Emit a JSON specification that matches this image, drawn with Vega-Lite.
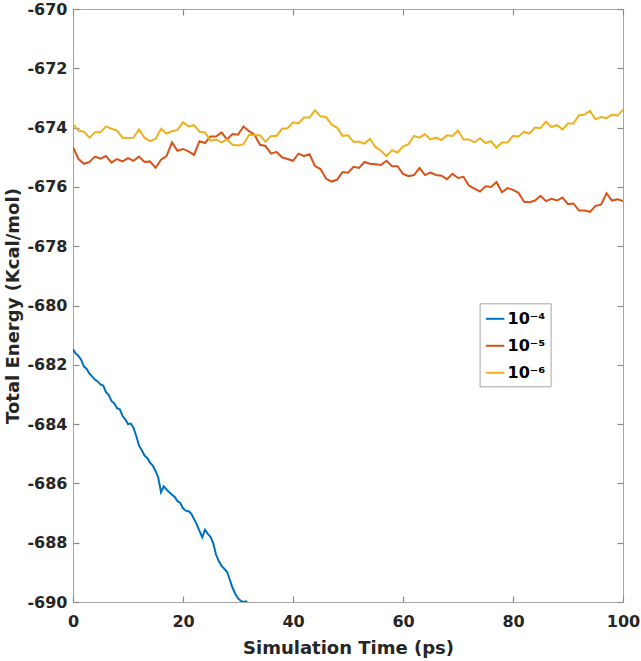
{
"$schema": "https://vega.github.io/schema/vega-lite/v6.json",
"width": 550, "height": 593,
"autosize": {"type": "none"},
"padding": {"left": 73, "top": 9, "right": 18, "bottom": 59},
"background": "white",
"config": {"view": {"stroke": "#a6a6a6", "strokeWidth": 1}, "font": "DejaVu Sans"},
"datasets": {
"blue": [
{"t":0,"e":-681.48},{"t":0.5,"e":-681.62},{"t":1,"e":-681.70},{"t":1.5,"e":-681.84},{"t":2,"e":-682.06},{"t":2.5,"e":-682.14},{"t":3,"e":-682.30},{"t":3.5,"e":-682.40},{"t":4,"e":-682.50},{"t":4.5,"e":-682.56},{"t":5,"e":-682.66},{"t":5.5,"e":-682.70},{"t":6,"e":-682.92},{"t":6.5,"e":-683.02},{"t":7,"e":-683.22},{"t":7.5,"e":-683.30},{"t":8,"e":-683.46},{"t":8.5,"e":-683.50},{"t":9,"e":-683.72},{"t":9.5,"e":-683.84},{"t":10,"e":-684.00},{"t":10.5,"e":-683.98},{"t":11,"e":-684.12},{"t":11.5,"e":-684.40},{"t":12,"e":-684.72},{"t":12.5,"e":-684.88},{"t":13,"e":-685.06},{"t":13.5,"e":-685.14},{"t":14,"e":-685.30},{"t":14.5,"e":-685.40},{"t":15,"e":-685.58},{"t":15.5,"e":-685.80},{"t":16,"e":-686.30},{"t":16.5,"e":-686.10},{"t":17,"e":-686.20},{"t":17.5,"e":-686.30},{"t":18,"e":-686.38},{"t":18.5,"e":-686.46},{"t":19,"e":-686.60},{"t":19.5,"e":-686.66},{"t":20,"e":-686.84},{"t":20.5,"e":-686.92},{"t":21,"e":-686.94},{"t":21.5,"e":-687.02},{"t":22,"e":-687.20},{"t":22.5,"e":-687.38},{"t":23,"e":-687.60},{"t":23.5,"e":-687.82},{"t":24,"e":-687.56},{"t":24.5,"e":-687.70},{"t":25,"e":-687.80},{"t":25.5,"e":-688.02},{"t":26,"e":-688.40},{"t":26.5,"e":-688.62},{"t":27,"e":-688.78},{"t":27.5,"e":-688.88},{"t":28,"e":-688.98},{"t":28.5,"e":-689.24},{"t":29,"e":-689.52},{"t":29.5,"e":-689.72},{"t":30,"e":-689.88},{"t":30.5,"e":-689.96},{"t":31,"e":-690.0},{"t":31.5,"e":-689.98},{"t":32,"e":-690.1}
],
"orange": [
{"t":0,"e":-674.66},{"t":1,"e":-675.06},{"t":2,"e":-675.22},{"t":3,"e":-675.16},{"t":4,"e":-674.98},{"t":5,"e":-675.05},{"t":6,"e":-674.96},{"t":7,"e":-675.18},{"t":8,"e":-675.06},{"t":9,"e":-675.14},{"t":10,"e":-675.03},{"t":11,"e":-675.12},{"t":12,"e":-674.98},{"t":13,"e":-675.16},{"t":14,"e":-675.14},{"t":15,"e":-675.36},{"t":16,"e":-675.08},{"t":17,"e":-674.96},{"t":18,"e":-674.50},{"t":19,"e":-674.78},{"t":20,"e":-674.72},{"t":21,"e":-674.80},{"t":22,"e":-674.92},{"t":23,"e":-674.46},{"t":24,"e":-674.52},{"t":25,"e":-674.30},{"t":26,"e":-674.30},{"t":27,"e":-674.16},{"t":28,"e":-674.40},{"t":29,"e":-674.22},{"t":30,"e":-674.24},{"t":31,"e":-673.96},{"t":32,"e":-674.12},{"t":33,"e":-674.24},{"t":34,"e":-674.58},{"t":35,"e":-674.62},{"t":36,"e":-674.88},{"t":37,"e":-674.82},{"t":38,"e":-675.00},{"t":39,"e":-675.06},{"t":40,"e":-675.12},{"t":41,"e":-674.88},{"t":42,"e":-674.96},{"t":43,"e":-674.90},{"t":44,"e":-675.30},{"t":45,"e":-675.40},{"t":46,"e":-675.72},{"t":47,"e":-675.82},{"t":48,"e":-675.76},{"t":49,"e":-675.50},{"t":50,"e":-675.52},{"t":51,"e":-675.32},{"t":52,"e":-675.36},{"t":53,"e":-675.16},{"t":54,"e":-675.22},{"t":55,"e":-675.24},{"t":56,"e":-675.26},{"t":57,"e":-675.12},{"t":58,"e":-675.30},{"t":59,"e":-675.30},{"t":60,"e":-675.56},{"t":61,"e":-675.64},{"t":62,"e":-675.60},{"t":63,"e":-675.36},{"t":64,"e":-675.60},{"t":65,"e":-675.52},{"t":66,"e":-675.60},{"t":67,"e":-675.62},{"t":68,"e":-675.74},{"t":69,"e":-675.56},{"t":70,"e":-675.70},{"t":71,"e":-675.66},{"t":72,"e":-675.96},{"t":73,"e":-676.06},{"t":74,"e":-676.16},{"t":75,"e":-675.98},{"t":76,"e":-676.00},{"t":77,"e":-675.84},{"t":78,"e":-676.18},{"t":79,"e":-676.04},{"t":80,"e":-676.10},{"t":81,"e":-676.20},{"t":82,"e":-676.50},{"t":83,"e":-676.52},{"t":84,"e":-676.46},{"t":85,"e":-676.30},{"t":86,"e":-676.48},{"t":87,"e":-676.40},{"t":88,"e":-676.46},{"t":89,"e":-676.36},{"t":90,"e":-676.58},{"t":91,"e":-676.56},{"t":92,"e":-676.80},{"t":93,"e":-676.80},{"t":94,"e":-676.84},{"t":95,"e":-676.64},{"t":96,"e":-676.60},{"t":97,"e":-676.22},{"t":98,"e":-676.46},{"t":99,"e":-676.42},{"t":100,"e":-676.48}
],
"yellow": [
{"t":0,"e":-673.88},{"t":1,"e":-674.10},{"t":2,"e":-674.14},{"t":3,"e":-674.34},{"t":4,"e":-674.16},{"t":5,"e":-674.16},{"t":6,"e":-673.96},{"t":7,"e":-674.04},{"t":8,"e":-674.10},{"t":9,"e":-674.34},{"t":10,"e":-674.36},{"t":11,"e":-674.34},{"t":12,"e":-674.06},{"t":13,"e":-674.34},{"t":14,"e":-674.46},{"t":15,"e":-674.38},{"t":16,"e":-674.04},{"t":17,"e":-674.20},{"t":18,"e":-674.12},{"t":19,"e":-674.08},{"t":20,"e":-673.82},{"t":21,"e":-673.96},{"t":22,"e":-673.92},{"t":23,"e":-674.14},{"t":24,"e":-674.16},{"t":25,"e":-674.44},{"t":26,"e":-674.40},{"t":27,"e":-674.50},{"t":28,"e":-674.40},{"t":29,"e":-674.58},{"t":30,"e":-674.60},{"t":31,"e":-674.56},{"t":32,"e":-674.24},{"t":33,"e":-674.26},{"t":34,"e":-674.26},{"t":35,"e":-674.48},{"t":36,"e":-674.28},{"t":37,"e":-674.28},{"t":38,"e":-674.04},{"t":39,"e":-674.02},{"t":40,"e":-673.82},{"t":41,"e":-673.86},{"t":42,"e":-673.66},{"t":43,"e":-673.66},{"t":44,"e":-673.42},{"t":45,"e":-673.62},{"t":46,"e":-673.64},{"t":47,"e":-673.90},{"t":48,"e":-674.00},{"t":49,"e":-674.28},{"t":50,"e":-674.26},{"t":51,"e":-674.48},{"t":52,"e":-674.48},{"t":53,"e":-674.54},{"t":54,"e":-674.38},{"t":55,"e":-674.66},{"t":56,"e":-674.78},{"t":57,"e":-674.96},{"t":58,"e":-674.76},{"t":59,"e":-674.84},{"t":60,"e":-674.64},{"t":61,"e":-674.56},{"t":62,"e":-674.28},{"t":63,"e":-674.34},{"t":64,"e":-674.22},{"t":65,"e":-674.40},{"t":66,"e":-674.34},{"t":67,"e":-674.42},{"t":68,"e":-674.26},{"t":69,"e":-674.28},{"t":70,"e":-674.10},{"t":71,"e":-674.40},{"t":72,"e":-674.40},{"t":73,"e":-674.50},{"t":74,"e":-674.36},{"t":75,"e":-674.52},{"t":76,"e":-674.46},{"t":77,"e":-674.68},{"t":78,"e":-674.50},{"t":79,"e":-674.50},{"t":80,"e":-674.28},{"t":81,"e":-674.30},{"t":82,"e":-674.14},{"t":83,"e":-674.20},{"t":84,"e":-674.00},{"t":85,"e":-674.02},{"t":86,"e":-673.80},{"t":87,"e":-673.98},{"t":88,"e":-673.92},{"t":89,"e":-674.06},{"t":90,"e":-673.86},{"t":91,"e":-673.86},{"t":92,"e":-673.58},{"t":93,"e":-673.56},{"t":94,"e":-673.44},{"t":95,"e":-673.72},{"t":96,"e":-673.64},{"t":97,"e":-673.68},{"t":98,"e":-673.56},{"t":99,"e":-673.60},{"t":100,"e":-673.40}
]
},
"layer": [
{
"data": {"name": "blue"},
"mark": {"type": "line", "strokeWidth": 2, "clip": true},
"encoding": {
"x": {"field": "t", "type": "quantitative", "scale": {"domain": [0, 100], "nice": false},
"axis": {"values": [0, 20, 40, 60, 80, 100], "title": "Simulation Time (ps)", "grid": false, "domain": false, "ticks": false, "labelPadding": 11, "labelFlush": false, "labelFont": "DejaVu Sans", "labelFontWeight": "bold", "labelFontSize": 16, "labelColor": "#262626", "titleFont": "DejaVu Sans", "titleFontWeight": "bold", "titleFontSize": 18, "titleColor": "#262626", "titlePadding": 10}},
"y": {"field": "e", "type": "quantitative", "scale": {"domain": [-690, -670], "nice": false, "zero": false},
"axis": {"values": [-690, -688, -686, -684, -682, -680, -678, -676, -674, -672, -670], "labelExpr": "replace(datum.label, '\u2212', '-')", "title": "Total Energy (Kcal/mol)", "grid": false, "domain": false, "ticks": false, "labelPadding": 6, "labelFont": "DejaVu Sans", "labelFontWeight": "bold", "labelFontSize": 16, "labelColor": "#262626", "titleFont": "DejaVu Sans", "titleFontWeight": "bold", "titleFontSize": 18, "titleColor": "#262626", "titlePadding": 4}},
"color": {"datum": "10⁻⁴", "type": "nominal", "scale": {"domain": ["10⁻⁴", "10⁻⁵", "10⁻⁶"], "range": ["#0072BD", "#D95319", "#EDB120"]},
"legend": {"orient": "none", "legendX": 406.6, "legendY": 294.3, "title": null, "symbolType": "stroke", "symbolSize": 340, "symbolStrokeWidth": 2, "labelFont": "DejaVu Sans", "labelFontWeight": "bold", "labelFontSize": 16, "labelColor": "#000000", "fillColor": "white", "strokeColor": "#a6a6a6", "padding": 5, "rowPadding": 8, "labelOffset": 2}}
}
},
{
"data": {"name": "orange"},
"mark": {"type": "line", "strokeWidth": 2, "clip": true, "color": "#D95319"},
"encoding": {
"x": {"field": "t", "type": "quantitative", "scale": {"domain": [0, 100], "nice": false},
"axis": {"orient": "top", "offset": -593, "values": [0, 20, 40, 60, 80, 100], "labels": false, "title": null, "grid": false, "domain": false, "tickSize": 6, "tickWidth": 1.2, "tickColor": "#8a8a8a"}},
"y": {"field": "e", "type": "quantitative", "scale": {"domain": [-690, -670], "nice": false, "zero": false},
"axis": {"orient": "right", "offset": -550, "values": [-690, -688, -686, -684, -682, -680, -678, -676, -674, -672, -670], "labels": false, "title": null, "grid": false, "domain": false, "tickSize": 6, "tickWidth": 1.2, "tickColor": "#8a8a8a"}}
}
},
{
"data": {"name": "yellow"},
"mark": {"type": "line", "strokeWidth": 2, "clip": true, "color": "#EDB120"},
"encoding": {
"x": {"field": "t", "type": "quantitative", "scale": {"domain": [0, 100], "nice": false},
"axis": {"orient": "bottom", "offset": -593, "values": [0, 20, 40, 60, 80, 100], "labels": false, "title": null, "grid": false, "domain": false, "tickSize": 6, "tickWidth": 1.2, "tickColor": "#8a8a8a"}},
"y": {"field": "e", "type": "quantitative", "scale": {"domain": [-690, -670], "nice": false, "zero": false},
"axis": {"orient": "left", "offset": -550, "values": [-690, -688, -686, -684, -682, -680, -678, -676, -674, -672, -670], "labels": false, "title": null, "grid": false, "domain": false, "tickSize": 6, "tickWidth": 1.2, "tickColor": "#8a8a8a"}}
}
}
],
"resolve": {"scale": {"x": "independent", "y": "independent"}}
}
